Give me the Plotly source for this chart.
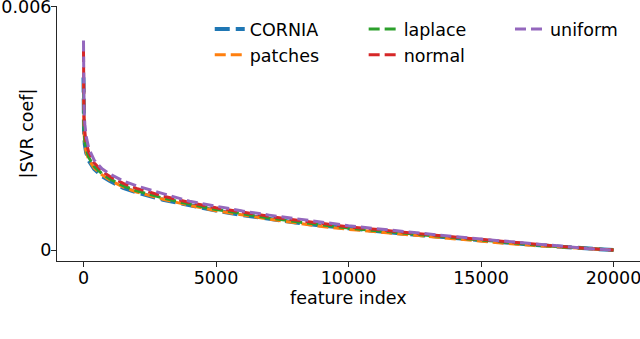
"""|SVR coef| sorted per feature, five codebook variants."""

import plotly.graph_objects as go

# ── Data ──────────────────────────────────────────────────────────────────────
feature_idx = [0, 5, 20, 50, 100, 200, 400, 700, 1000, 1500, 2000, 3000, 4000,
               5000, 6000, 7000, 8000, 9000, 10000, 11000, 12000, 13000, 14000,
               15000, 16000, 17000, 18000, 19000, 20000]

cornia  = [0.00425, 0.0034, 0.0029, 0.0026, 0.0024, 0.0022, 0.0020, 0.00182, 0.00170,
           0.00153, 0.00142, 0.00124, 0.00110, 0.00097, 0.00086, 0.00076, 0.00068,
           0.00060, 0.00053, 0.00047, 0.00041, 0.00035, 0.00029, 0.00023, 0.00018,
           0.00013, 0.00008, 0.00003, 0.0]
patches = [0.0041, 0.0034, 0.0029, 0.0026, 0.00242, 0.00222, 0.00202, 0.00185, 0.00172,
           0.00155, 0.00143, 0.00125, 0.00110, 0.00097, 0.00086, 0.00076, 0.00067,
           0.00058, 0.00051, 0.00045, 0.00039, 0.00033, 0.00027, 0.00021, 0.00016,
           0.00011, 0.00007, 0.00003, 0.0]
laplace = [0.0040, 0.0035, 0.0030, 0.00268, 0.00248, 0.00228, 0.00206, 0.00188, 0.00175,
           0.00158, 0.00146, 0.00128, 0.00113, 0.00100, 0.00089, 0.00079, 0.00070,
           0.00062, 0.00054, 0.00048, 0.00042, 0.00036, 0.00030, 0.00024, 0.00019,
           0.00013, 0.00008, 0.00004, 0.0]
normal  = [0.0049, 0.0040, 0.0033, 0.0029, 0.00265, 0.00240, 0.00215, 0.00194, 0.00181,
           0.00164, 0.00152, 0.00133, 0.00117, 0.00104, 0.00093, 0.00083, 0.00074,
           0.00065, 0.00057, 0.00051, 0.00044, 0.00038, 0.00032, 0.00026, 0.00020,
           0.00014, 0.00009, 0.00004, 0.0]
uniform = [0.00516, 0.0042, 0.0035, 0.0031, 0.0028, 0.0025, 0.00222, 0.00200, 0.00187,
           0.00170, 0.00158, 0.00139, 0.00120, 0.00108, 0.00096, 0.00086, 0.00077,
           0.00068, 0.00060, 0.00053, 0.00046, 0.00040, 0.00033, 0.00027, 0.00021,
           0.00015, 0.00009, 0.00004, 0.0]

x_ticks = [0, 5000, 10000, 15000, 20000]
x_tick_labels = ["0", "5000", "10000", "15000", "20000"]
y_ticks = [0, 0.006]
y_tick_labels = ["0", "0.006"]

# ── Style ─────────────────────────────────────────────────────────────────────
_FONT = "DejaVu Sans"
_AXIS = "#262626"
_FS = 17.5

# (name, values, colour, width, dash, legend column)
series = [
    ("CORNIA",  cornia,  "#1f77b4", 4.0, "15px,6px", "legend"),
    ("patches", patches, "#ff7f0e", 3.0, "11px,5px", "legend"),
    ("laplace", laplace, "#2ca02c", 3.0, "11px,5px", "legend2"),
    ("normal",  normal,  "#d62728", 3.0, "11px,5px", "legend2"),
    ("uniform", uniform, "#9467bd", 3.0, "11px,5px", "legend3"),
]

fig = go.Figure()
for name, vals, color, width, dash, leg in series:
    fig.add_trace(go.Scatter(
        x=feature_idx, y=vals, mode="lines", name=name,
        line=dict(color=color, width=width, dash=dash),
        legend=leg,
    ))

_axis = dict(
    showline=True, linecolor=_AXIS, linewidth=1.2,
    showgrid=False, zeroline=False,
    ticks="outside", ticklen=5, tickwidth=1.2, tickcolor=_AXIS,
    tickfont=dict(family=_FONT, size=_FS, color="black"),
    automargin=False, ticklabeloverflow="allow", ticklabelstandoff=-4,
)


def _legend(x):
    return dict(
        x=x, y=0.98, xanchor="left", yanchor="top",
        bgcolor="rgba(0,0,0,0)", tracegroupgap=0,
        font=dict(family=_FONT, size=_FS, color="black"),
    )


# axis titles placed as paper annotations so they sit where the original has them
fig.add_annotation(text="feature index", xref="paper", yref="paper",
                   x=0.5, y=-0.145, xanchor="center", yanchor="middle",
                   showarrow=False, font=dict(family=_FONT, size=_FS))
fig.add_annotation(text="|SVR coef|", xref="paper", yref="paper",
                   x=-0.0515, y=0.5, xanchor="center", yanchor="middle",
                   textangle=-90, showarrow=False, font=dict(family=_FONT, size=_FS))

fig.update_layout(
    width=640, height=339,
    paper_bgcolor="white", plot_bgcolor="white",
    margin=dict(l=57, r=0, t=6, b=78),
    font=dict(family=_FONT, size=_FS, color="black"),
    xaxis=dict(**_axis, range=[-1000, 21000], tickvals=x_ticks,
               ticktext=x_tick_labels),
    yaxis=dict(**_axis, range=[-0.00027, 0.00601], tickvals=y_ticks,
               ticktext=y_tick_labels),
    legend=_legend(0.262),
    legend2=_legend(0.526),
    legend3=_legend(0.777),
    showlegend=True,
)

# drop the browser's default 8px body margin so the figure sits at the corner
fig.write_html("out.html", config={"displayModeBar": False},
               post_script="document.body.style.margin='0';")
